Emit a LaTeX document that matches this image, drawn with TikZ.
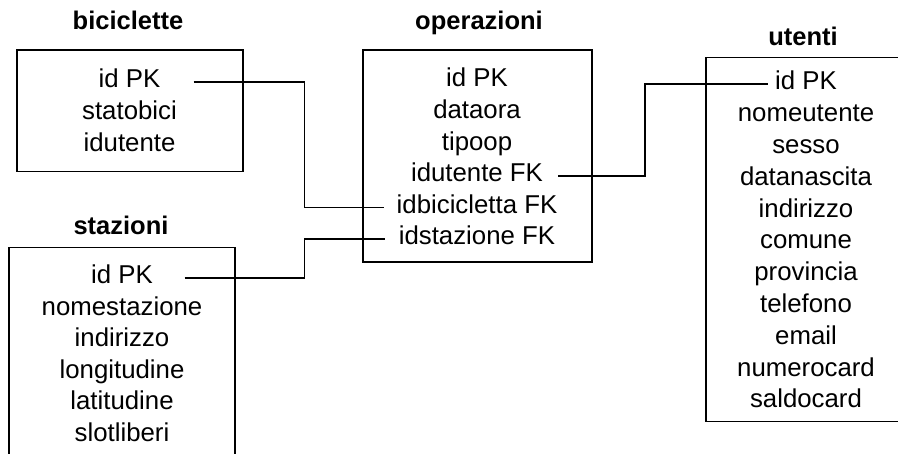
\documentclass[tikz,border=0pt]{standalone}
\usepackage{fontspec}
\setmainfont{Liberation Sans}
\begin{document}
\begin{tikzpicture}[x=1pt,y=-1pt,
  tbl/.style={draw, line width=1.6pt},
  fld/.style={font=\fontsize{25.8}{30}\selectfont, anchor=base, inner sep=0pt, text height=15pt, text depth=3pt},
  ttl/.style={font=\fontsize{25.5}{30}\selectfont\bfseries, anchor=base, inner sep=0pt},
  conn/.style={draw, line width=1.6pt}]
\useasboundingbox (0,0) rectangle (898,454);
\clip (0,0) rectangle (898,454);

% biciclette
\draw[tbl] (16.7,50) rectangle (242.7,171.7);
\node[ttl] (tbici) at (128,30) {biciclette};
\node[fld] (b1) at (129.5,88) {id PK};
\node[fld] (b2) at (129.5,119.6) {statobici};
\node[fld] (b3) at (129.5,151.2) {idutente};

% operazioni
\draw[tbl] (362.7,50) rectangle (591.7,262.3);
\node[ttl] (tops) at (479,30) {operazioni};
\node[fld] (o1) at (477,87) {id PK};
\node[fld] (o2) at (477,118.6) {dataora};
\node[fld] (o3) at (477,150.2) {tipoop};
\node[fld] (o4) at (477,181.8) {idutente FK};
\node[fld] (o5) at (477,213.4) {idbicicletta FK};
\node[fld] (o6) at (477,245) {idstazione FK};

% utenti
\draw[tbl] (705.7,57.7) rectangle (912,421.7);
\node[ttl] (tute) at (803,46) {utenti};
\foreach \t [count=\i from 0] in {id PK,nomeutente,sesso,datanascita,indirizzo,comune,provincia,telefono,email,numerocard,saldocard}{
  \node[fld] (u\i) at (806,90+31.8*\i) {\t};
}

% stazioni
\draw[tbl] (9,247.7) rectangle (235,470);
\node[ttl] (tsta) at (121,235) {stazioni};
\foreach \t [count=\i from 1] in {id PK,nomestazione,indirizzo,longitudine,latitudine,slotliberi}{
  \node[fld] (s\i) at (122,284+31.5*\i-31.5) {\t};
}

% connectors
\draw[conn] ([xshift=33pt]b1.east) -| (304.5,150) |- ([xshift=-13pt]o5.west);
\draw[conn] ([xshift=31.5pt]s1.east) -| (304.5,260) |- ([xshift=-13.5pt]o6.west);
\draw[conn] ([xshift=15pt]o4.east) -| (645,130) |- ([xshift=-7pt]u0.west);
\end{tikzpicture}
\end{document}
